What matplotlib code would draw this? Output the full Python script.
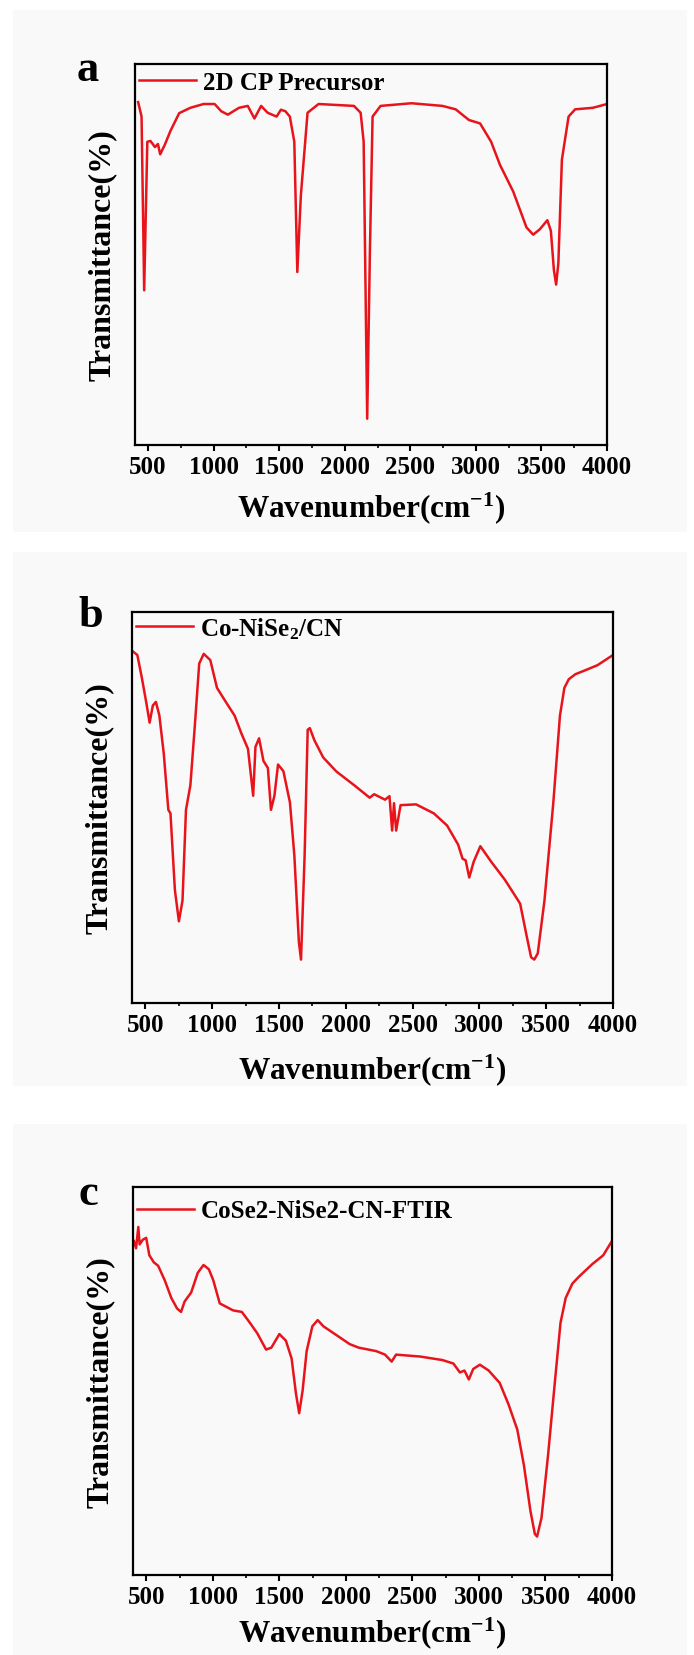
import matplotlib
matplotlib.use("Agg")
import matplotlib.pyplot as plt
from matplotlib.patches import Rectangle
from matplotlib.ticker import MultipleLocator

plt.rcParams['font.family'] = ['Liberation Serif', 'DejaVu Serif']
plt.rcParams['font.weight'] = 'bold'
plt.rcParams['mathtext.fontset'] = 'custom'
plt.rcParams['mathtext.rm'] = 'Liberation Serif:bold'
plt.rcParams['mathtext.bf'] = 'Liberation Serif:bold'
plt.rcParams['mathtext.default'] = 'bf'

# ---- data (y = fraction of axis height, 0 bottom .. 100 top)
wn_a = [424, 450, 470, 494, 518, 552, 575, 592, 626, 670, 737, 822, 923, 1007, 1058, 1108,
        1193, 1260, 1311, 1362, 1412, 1446, 1480, 1513, 1547, 1581, 1615, 1638, 1665, 1716,
        1800, 2070, 2121, 2144, 2171, 2192, 2212, 2273, 2509, 2745, 2846, 2947, 3032, 3116,
        3184, 3285, 3386, 3437, 3487, 3545, 3572, 3595, 3612, 3629, 3656, 3707, 3757, 3892, 4000]
tr_a = [90.0, 86.2, 40.6, 79.6, 79.8, 78.2, 79.0, 76.3, 78.7, 82.4, 87.1, 88.5, 89.5, 89.5, 87.6, 86.7,
        88.5, 89.0, 85.7, 89.0, 87.2, 86.7, 86.2, 88.0, 87.6, 86.2, 79.6, 45.4, 65.5, 87.2,
        89.5, 89.0, 87.2, 79.6, 6.9, 51.5, 86.2, 89.0, 89.7, 89.0, 88.1, 85.3, 84.4, 79.6,
        73.5, 66.5, 57.1, 55.2, 56.6, 59.0, 56.2, 45.9, 42.1, 47.7, 74.9, 86.2, 88.1, 88.5, 89.5]

wn_b = [407, 440, 473, 506, 532, 556, 579, 605, 638, 672, 688, 721, 751, 778, 804, 837, 870,
        903, 937, 986, 1036, 1069, 1119, 1168, 1218, 1268, 1307, 1324, 1351, 1384, 1417, 1440,
        1466, 1493, 1533, 1582, 1615, 1649, 1665, 1692, 1715, 1731, 1765, 1831, 1930, 2063,
        2179, 2212, 2294, 2327, 2347, 2361, 2377, 2410, 2526, 2659, 2758, 2841, 2874, 2897,
        2924, 2957, 3007, 3089, 3189, 3255, 3305, 3354, 3387, 3411, 3437, 3487, 3553, 3603,
        3636, 3669, 3719, 3785, 3884, 4000]
tr_b = [89.9, 89.0, 83.3, 77.0, 71.7, 76.1, 77.0, 73.5, 63.7, 49.4, 48.5, 28.9, 20.9, 26.2, 49.4,
        55.7, 70.8, 86.8, 89.3, 87.7, 80.6, 78.8, 76.1, 73.5, 69.0, 65.0, 53.0, 65.5, 67.7, 61.9,
        60.1, 49.4, 53.0, 61.0, 59.3, 51.3, 37.8, 15.6, 11.1, 37.8, 69.9, 70.3, 67.2, 62.8,
        59.2, 55.7, 52.5, 53.4, 52.0, 52.9, 44.1, 51.1, 44.1, 50.6, 50.8, 48.5, 45.4, 40.5,
        36.9, 36.5, 32.1, 36.1, 40.1, 36.1, 31.6, 28.1, 25.4, 17.1, 11.7, 11.1, 12.7, 26.2,
        51.1, 73.5, 80.6, 82.8, 84.1, 85.0, 86.4, 89.0]

wn_c = [407, 423, 440, 450, 473, 499, 523, 556, 589, 638, 688, 731, 761, 788, 837, 887, 930,
        970, 1003, 1052, 1102, 1152, 1218, 1268, 1334, 1400, 1440, 1500, 1549, 1592, 1625,
        1649, 1675, 1705, 1748, 1788, 1831, 1930, 2029, 2096, 2228, 2294, 2344, 2377, 2559,
        2725, 2808, 2857, 2891, 2924, 2957, 3007, 3073, 3156, 3222, 3288, 3338, 3387, 3420,
        3437, 3470, 3520, 3570, 3613, 3652, 3702, 3752, 3851, 3934, 4000]
tr_c = [86.1, 84.2, 89.7, 85.2, 86.4, 86.9, 82.4, 80.6, 79.7, 76.0, 71.4, 68.7, 67.8, 70.5, 72.8,
        77.9, 79.9, 78.8, 76.0, 70.0, 69.1, 68.2, 67.8, 65.5, 62.3, 58.1, 58.6, 62.1, 60.4, 55.8,
        46.7, 41.7, 47.6, 57.7, 64.1, 65.7, 64.1, 61.8, 59.5, 58.6, 57.7, 56.8, 55.0, 56.8,
        56.3, 55.4, 54.5, 52.2, 52.7, 50.4, 53.1, 54.2, 52.7, 49.5, 44.0, 37.5, 28.3, 16.5,
        10.6, 9.9, 14.7, 31.1, 49.5, 65.0, 71.4, 75.1, 76.9, 80.1, 82.4, 86.1]

labels = ['2D CP Precursor', 'Co-NiSe$_{2}$/CN', 'CoSe2-NiSe2-CN-FTIR']
letters = ['a', 'b', 'c']
xticks = [500, 1000, 1500, 2000, 2500, 3000, 3500, 4000]

W, H = 694, 1656
fig = plt.figure(figsize=(W / 100, H / 100), dpi=100)
fig.patch.set_facecolor('white')

# faint grey panel backgrounds (kept behind the axes)
for y0, y1 in [(11, 533), (553, 1087), (1125, 1656)]:
    fig.patches.append(Rectangle((13 / W, 1 - y1 / H), 674 / W, (y1 - y0) / H,
                                 transform=fig.transFigure, facecolor='#f9f9f9',
                                 edgecolor='none', zorder=-10))

# axes boxes in pixels: left, right, top, bottom
boxes = [(135, 607, 65, 446), (132, 613, 613, 1004), (133, 612, 1188, 1576)]
letter_pos = [(88, 70), (91, 616), (88, 1194)]
legend_y = [83, 629, 1212]
xlabel_pad = [8, 11, 5]
series = [(wn_a, tr_a), (wn_b, tr_b), (wn_c, tr_c)]
red = '#e8141c'

for i, (l, r, t, b) in enumerate(boxes):
    ax = fig.add_axes([l / W, 1 - b / H, (r - l) / W, (b - t) / H])
    ax.set_zorder(5)
    ax.set_facecolor('none')
    wn, tr = series[i]
    ax.plot(wn, tr, color=red, lw=1.8, label=labels[i])
    ax.set_xlim(400, 4000)
    ax.set_ylim(0, 100)
    ax.set_xticks(xticks)
    ax.xaxis.set_minor_locator(MultipleLocator(250))
    ax.set_yticks([])
    ax.tick_params(axis='x', which='major', direction='out', length=4, width=1.5,
                   labelsize=18, pad=3)
    ax.tick_params(axis='x', which='minor', direction='out', length=2.5, width=1.2)
    for s in ax.spines.values():
        s.set_linewidth(1.6)
    for lab in ax.get_xticklabels():
        lab.set_fontweight('bold')
    ax.set_xlabel('Wavenumber(cm$^{-1}$)', fontsize=22.5, fontweight='bold',
                  labelpad=xlabel_pad[i])
    ax.set_ylabel('Transmittance(%)', fontsize=23, fontweight='bold', labelpad=13)
    ly = (b - legend_y[i]) / (b - t)
    ax.legend(loc='center left', bbox_to_anchor=(0.008, ly), frameon=False,
              borderpad=0, borderaxespad=0, handlelength=2.3, handletextpad=0.25,
              prop={'family': 'Liberation Serif', 'weight': 'bold', 'size': 18})
    lx, lyy = letter_pos[i]
    fig.text(lx / W, 1 - lyy / H, letters[i], fontsize=32, fontweight='bold',
             ha='center', va='center', zorder=6)

fig.savefig('out.png', dpi=100, facecolor='white')
